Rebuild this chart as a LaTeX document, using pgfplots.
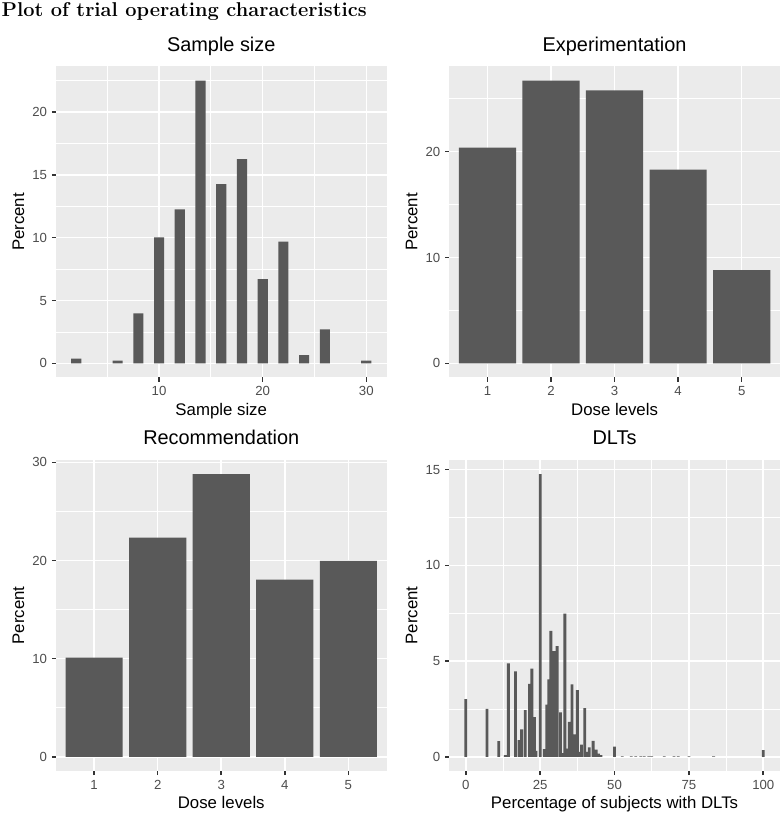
\documentclass[border=0pt]{standalone}
\usepackage{pgfplots}
\pgfplotsset{compat=1.18}
\usepackage{fontspec}
\newfontfamily\arial{Liberation Sans}
\definecolor{panelbg}{HTML}{EBEBEB}
\definecolor{barfill}{HTML}{595959}
\definecolor{tickcol}{HTML}{333333}
\definecolor{ticklab}{HTML}{4D4D4D}

\pgfplotsset{
  ggpanel/.style={
    scale only axis, width=330.5bp, height=311bp,
    anchor=south west,
    axis background/.style={fill=panelbg, draw=none},
    axis line style={draw=none},
    tick pos=left, tick align=outside,
    major tick length=4.2bp, minor tick length=0pt,
    tick style={draw=tickcol, line width=1.6bp},
    major grid style={draw=white, line width=1.6bp},
    minor grid style={draw=white, line width=0.8bp},
    xmajorgrids, ymajorgrids,
    tick label style={font=\arial\fontsize{13.2bp}{15bp}\selectfont, text=ticklab},
    /pgf/number format/assume math mode=true,
    scaled ticks=false,
    xticklabel style={anchor=base, inner sep=0pt, yshift=-14bp},
    yticklabel style={anchor=east, inner sep=0pt, xshift=-4.6bp},
    title style={font=\arial\fontsize{19.9bp}{22bp}\selectfont, at={(axis description cs:0.5,1.0299)}, anchor=base, inner sep=0pt},
    xlabel style={font=\arial\fontsize{16.8bp}{19bp}\selectfont, at={(axis description cs:0.5,-0.1206)}, anchor=base, inner sep=0pt},
    ylabel style={font=\arial\fontsize{16.8bp}{19bp}\selectfont, at={(axis description cs:-0.1135,0.5)}, anchor=center, inner sep=0pt},
    ybar, bar shift=0pt,
  },
  ggbar/.style={fill=barfill, draw=none},
}

\begin{document}
\begin{tikzpicture}
\path[use as bounding box] (0bp,0bp) rectangle (782bp,814bp);
\node[anchor=base west, inner sep=0pt, font=\fontsize{20bp}{22bp}\selectfont\bfseries] at (1.5bp,797.5bp) {Plot of trial operating characteristics};

% Sample size
\begin{axis}[ggpanel, at={(56bp,436.5bp)},
  title={Sample size}, xlabel={Sample size}, ylabel={Percent},
  xmin=0.05, xmax=31.95, ymin=-1.125, ymax=23.625,
  xtick={10,20,30}, minor xtick={5,15,25}, xminorgrids,
  ytick={0,5,10,15,20}, minor ytick={2.5,7.5,12.5,17.5,22.5}, yminorgrids,
  bar width=0.98]
\addplot[ggbar] coordinates {(2,0.37) (6,0.21) (8,3.98) (10,10.03) (12,12.25) (14,22.5) (16,14.27) (18,16.26) (20,6.71) (22,9.68) (24,0.66) (26,2.71) (30,0.21)};
\end{axis}

% Experimentation
\begin{axis}[ggpanel, at={(449.3bp,436.5bp)},
  title={Experimentation}, xlabel={Dose levels}, ylabel={Percent},
  xmin=0.4, xmax=5.6, ymin=-1.335, ymax=28.04,
  xtick={1,2,3,4,5},
  ytick={0,10,20}, minor ytick={5,15,25}, yminorgrids,
  bar width=0.9]
\addplot[ggbar] coordinates {(1,20.38) (2,26.7) (3,25.79) (4,18.3) (5,8.8)};
\end{axis}

% Recommendation
\begin{axis}[ggpanel, at={(56bp,43bp)},
  title={Recommendation}, xlabel={Dose levels}, ylabel={Percent},
  xmin=0.4, xmax=5.6, ymin=-1.44, ymax=30.24,
  xtick={1,2,3,4,5},
  ytick={0,10,20,30}, minor ytick={5,15,25}, yminorgrids,
  bar width=0.9]
\addplot[ggbar] coordinates {(1,10.12) (2,22.34) (3,28.8) (4,18.06) (5,19.97)};
\end{axis}

% DLTs
\begin{axis}[ggpanel, at={(449.3bp,43bp)},
  title={DLTs}, xlabel={Percentage of subjects with DLTs}, ylabel={Percent},
  xmin=-5.55, xmax=105.55, ymin=-0.738, ymax=15.5,
  xtick={0,25,50,75,100}, minor xtick={12.5,37.5,62.5,87.5}, xminorgrids,
  ytick={0,5,10,15}, minor ytick={2.5,7.5,12.5}, yminorgrids,
  bar width=0.95]
\addplot[ggbar] coordinates {
(0,3.01) (7.14,2.51) (11.1,0.82) (13.3,0.09) (14.3,4.88) (16.7,4.47) (17.9,0.87) (18.75,1.43)
(20.0,2.44) (21.4,3.81) (22.2,4.61) (23.1,2.07) (23.6,0.31) (25.0,14.76) (26.4,0.4) (27.2,2.73)
(27.9,4.04) (28.6,6.58) (29.6,5.52) (30.7,5.78) (31.8,2.32) (32.4,0.2) (33.3,7.48) (34.3,0.43)
(34.8,1.83) (35.7,3.78) (36.6,1.18) (37.5,3.48) (38.2,0.26) (38.9,0.64) (40.0,2.54) (40.6,0.26)
(41.5,0.49) (42.8,0.83) (43.8,0.38) (44.6,0.17) (45.4,0.09) (50.0,0.54)
(52.6,0.03) (55.6,0.03) (57.1,0.03) (58.8,0.02) (60,0.03) (61.5,0.02) (62.5,0.03) (66.7,0.03)
(70,0.02) (71.4,0.03) (75,0.03) (83.3,0.02) (100,0.35)};
\end{axis}
\end{tikzpicture}
\end{document}
